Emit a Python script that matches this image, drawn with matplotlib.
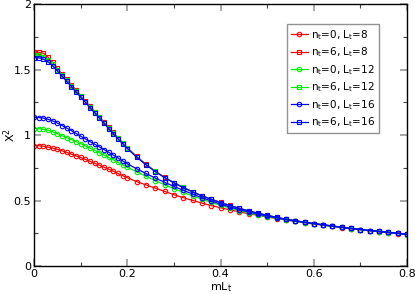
import numpy as np
import matplotlib.pyplot as plt
from matplotlib.ticker import MultipleLocator

# abscissa mL_t (dense near zero, then step 0.02)
mL = [0.00, 0.01, 0.02, 0.03, 0.04, 0.05, 0.06, 0.07, 0.08, 0.09, 0.10,
      0.11, 0.12, 0.13, 0.14, 0.15, 0.16, 0.17, 0.18, 0.19, 0.20,
      0.22, 0.24, 0.26, 0.28, 0.30, 0.32, 0.34, 0.36, 0.38, 0.40,
      0.42, 0.44, 0.46, 0.48, 0.50, 0.52, 0.54, 0.56, 0.58, 0.60,
      0.62, 0.64, 0.66, 0.68, 0.70, 0.72, 0.74, 0.76, 0.78, 0.80]

# n_t=0 curves
n0_L8 = [0.920, 0.919, 0.915, 0.908, 0.900, 0.891, 0.880, 0.868, 0.855, 0.842, 0.829,
         0.815, 0.800, 0.785, 0.770, 0.755, 0.740, 0.724, 0.707, 0.690, 0.675,
         0.645, 0.620, 0.595, 0.570, 0.545, 0.522, 0.501, 0.481, 0.462, 0.445,
         0.429, 0.414, 0.400, 0.387, 0.375, 0.363, 0.352, 0.341, 0.331, 0.321,
         0.312, 0.303, 0.294, 0.285, 0.277, 0.269, 0.262, 0.255, 0.248, 0.240]
n0_L12 = [1.050, 1.049, 1.045, 1.037, 1.025, 1.011, 0.996, 0.981, 0.966, 0.951, 0.935,
          0.918, 0.901, 0.884, 0.866, 0.848, 0.830, 0.811, 0.792, 0.773, 0.755,
          0.720, 0.686, 0.652, 0.621, 0.591, 0.562, 0.536, 0.511, 0.487, 0.464,
          0.443, 0.424, 0.406, 0.390, 0.376, 0.364, 0.353, 0.342, 0.332, 0.323,
          0.313, 0.304, 0.295, 0.286, 0.278, 0.270, 0.263, 0.256, 0.249, 0.241]
n0_L16 = [1.135, 1.134, 1.130, 1.121, 1.108, 1.092, 1.073, 1.054, 1.034, 1.013, 0.992,
          0.971, 0.950, 0.930, 0.910, 0.890, 0.869, 0.847, 0.825, 0.803, 0.781,
          0.743, 0.707, 0.672, 0.640, 0.608, 0.578, 0.550, 0.522, 0.497, 0.473,
          0.451, 0.431, 0.413, 0.397, 0.382, 0.368, 0.356, 0.344, 0.334, 0.324,
          0.314, 0.305, 0.296, 0.287, 0.279, 0.271, 0.264, 0.257, 0.250, 0.242]

# n_t=6 curves
n6_L8 = [1.635, 1.633, 1.625, 1.595, 1.555, 1.510, 1.465, 1.425, 1.385, 1.345, 1.300,
         1.260, 1.220, 1.180, 1.140, 1.100, 1.060, 1.020, 0.980, 0.942, 0.905,
         0.838, 0.778, 0.725, 0.678, 0.637, 0.601, 0.568, 0.538, 0.511, 0.486,
         0.463, 0.442, 0.422, 0.404, 0.388, 0.372, 0.358, 0.346, 0.335, 0.325,
         0.315, 0.306, 0.296, 0.287, 0.279, 0.271, 0.264, 0.257, 0.250, 0.242]
n6_L12 = [1.612, 1.610, 1.600, 1.575, 1.540, 1.500, 1.458, 1.418, 1.378, 1.338, 1.295,
          1.255, 1.215, 1.175, 1.135, 1.095, 1.055, 1.015, 0.976, 0.938, 0.901,
          0.835, 0.775, 0.723, 0.676, 0.636, 0.600, 0.567, 0.537, 0.510, 0.485,
          0.462, 0.441, 0.421, 0.403, 0.387, 0.372, 0.358, 0.346, 0.335, 0.325,
          0.315, 0.306, 0.296, 0.287, 0.279, 0.271, 0.264, 0.257, 0.250, 0.242]
n6_L16 = [1.592, 1.590, 1.580, 1.560, 1.528, 1.490, 1.450, 1.410, 1.370, 1.330, 1.290,
          1.250, 1.210, 1.170, 1.130, 1.090, 1.050, 1.010, 0.971, 0.934, 0.897,
          0.832, 0.773, 0.721, 0.675, 0.635, 0.599, 0.566, 0.536, 0.509, 0.485,
          0.462, 0.441, 0.421, 0.403, 0.387, 0.372, 0.358, 0.346, 0.335, 0.325,
          0.315, 0.306, 0.296, 0.287, 0.279, 0.271, 0.264, 0.257, 0.250, 0.242]

xticks = [0, 0.2, 0.4, 0.6, 0.8]
xtick_labels = ['0', '0.2', '0.4', '0.6', '0.8']
yticks = [0, 0.5, 1, 1.5, 2]
ytick_labels = ['0', '0.5', '1', '1.5', '2']

series = [
    (n0_L8, 'red', 'o', r'n$_\mathrm{t}$=0, L$_\mathrm{t}$=8'),
    (n6_L8, 'red', 's', r'n$_\mathrm{t}$=6, L$_\mathrm{t}$=8'),
    (n0_L12, '#00ee00', 'o', r'n$_\mathrm{t}$=0, L$_\mathrm{t}$=12'),
    (n6_L12, '#00ee00', 's', r'n$_\mathrm{t}$=6, L$_\mathrm{t}$=12'),
    (n0_L16, '#0000ff', 'o', r'n$_\mathrm{t}$=0, L$_\mathrm{t}$=16'),
    (n6_L16, '#0000ff', 's', r'n$_\mathrm{t}$=6, L$_\mathrm{t}$=16'),
]

plt.rcParams['font.family'] = 'DejaVu Sans'
plt.rcParams['mathtext.fontset'] = 'dejavusans'

fig = plt.figure(figsize=(4.15, 2.94), dpi=100)
ax = fig.add_axes([0.082, 0.095, 0.899, 0.891])

for vals, col, mk, lab in series:
    ax.plot(mL, vals, color=col, marker=mk, markersize=3.2, markerfacecolor='none',
            markeredgewidth=0.8, linewidth=0.9, label=lab)

ax.set_xlim(0, 0.8)
ax.set_ylim(0, 2)
ax.set_xticks(xticks)
ax.set_xticklabels(xtick_labels)
ax.set_yticks(yticks)
ax.set_yticklabels(ytick_labels)
ax.xaxis.set_minor_locator(MultipleLocator(0.1))
ax.yaxis.set_minor_locator(MultipleLocator(0.25))
ax.tick_params(which='both', direction='in', top=True, right=True, labelsize=8, pad=2)
ax.tick_params(which='major', length=5, width=1.2, color='#999999')
ax.tick_params(which='minor', length=3, width=0.8, color='#444444')
for s in ax.spines.values():
    s.set_linewidth(1.0)

ax.set_xlabel(r'mL$_\mathrm{t}$', fontsize=8, labelpad=1)
ax.set_ylabel(r'X$^2$', fontsize=8, labelpad=0)
ax.yaxis.set_label_coords(-0.044, 0.5)

leg = ax.legend(loc='upper right', bbox_to_anchor=(0.925, 0.925), fontsize=7.5,
                frameon=True, fancybox=False, handlelength=1.6, handletextpad=0.3,
                labelspacing=0.35, borderpad=0.4, borderaxespad=0)
leg.get_frame().set_edgecolor('#777777')
leg.get_frame().set_linewidth(1.0)

fig.savefig('out.png', dpi=100)
